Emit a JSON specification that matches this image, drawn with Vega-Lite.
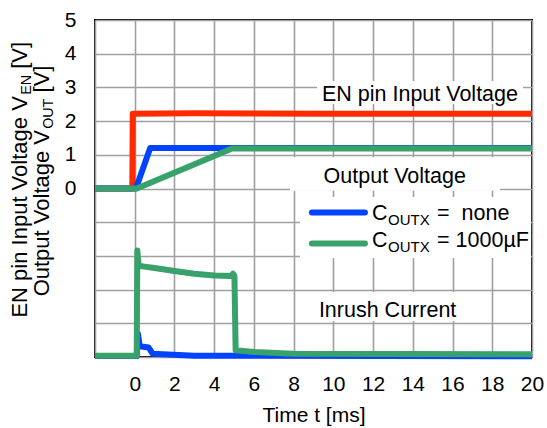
{
  "$schema": "https://vega.github.io/schema/vega-lite/v6.json",
  "width": 437,
  "height": 337,
  "autosize": {"type": "none"},
  "padding": {"left": 95, "top": 20, "right": 15, "bottom": 71},
  "background": "white",
  "config": {
    "font": "Liberation Sans",
    "view": {"stroke": "black", "strokeWidth": 2},
    "axis": {
      "grid": true,
      "gridColor": "#a0a0a4",
      "gridWidth": 1.6,
      "gridOpacity": 1,
      "ticks": false,
      "tickSize": 0,
      "tickCount": 40,
      "format": "d",
      "domain": false,
      "labelOverlap": false,
      "labelBound": false,
      "labelFlush": false,
      "labelFont": "Liberation Sans",
      "labelFontSize": 21,
      "labelColor": "black",
      "titleFont": "Liberation Sans",
      "titleFontSize": 21,
      "titleFontWeight": "normal",
      "titleColor": "black"
    }
  },
  "datasets": {
    "en": [
      {"t": -2, "v": 0}, {"t": -0.12, "v": 0}, {"t": -0.1, "v": 2.22}, {"t": 3, "v": 2.23}, {"t": 10, "v": 2.22}, {"t": 20, "v": 2.22}
    ],
    "blue": [
      {"k": "vout", "t": -2, "v": 0}, {"k": "vout", "t": 0.06, "v": 0}, {"k": "vout", "t": 0.78, "v": 1.2}, {"k": "vout", "t": 20, "v": 1.2},
      {"k": "inrush", "t": -2, "v": -4.97}, {"k": "inrush", "t": 0.1, "v": -4.97}, {"k": "inrush", "t": 0.16, "v": -4.3}, {"k": "inrush", "t": 0.25, "v": -4.68}, {"k": "inrush", "t": 0.7, "v": -4.72}, {"k": "inrush", "t": 0.9, "v": -4.9}, {"k": "inrush", "t": 3, "v": -4.96}, {"k": "inrush", "t": 20, "v": -4.98}
    ],
    "green": [
      {"k": "vout", "t": -2, "v": 0}, {"k": "vout", "t": 0.1, "v": 0}, {"k": "vout", "t": 4.9, "v": 1.19}, {"k": "vout", "t": 20, "v": 1.19},
      {"k": "inrush", "t": -2, "v": -4.96}, {"k": "inrush", "t": 0.1, "v": -4.96}, {"k": "inrush", "t": 0.13, "v": -1.84}, {"k": "inrush", "t": 0.2, "v": -2.3}, {"k": "inrush", "t": 0.4, "v": -2.31}, {"k": "inrush", "t": 1, "v": -2.36}, {"k": "inrush", "t": 2, "v": -2.45}, {"k": "inrush", "t": 3, "v": -2.53}, {"k": "inrush", "t": 4, "v": -2.58}, {"k": "inrush", "t": 4.85, "v": -2.6}, {"k": "inrush", "t": 4.95, "v": -2.53}, {"k": "inrush", "t": 5.02, "v": -2.6}, {"k": "inrush", "t": 5.08, "v": -4.8}, {"k": "inrush", "t": 6, "v": -4.85}, {"k": "inrush", "t": 8, "v": -4.9}, {"k": "inrush", "t": 20, "v": -4.92}
    ],
    "boxes": [
      {"t": 9.18, "t2": 19.55, "v": 3.19, "v2": 2.51},
      {"t": 7.82, "t2": 18.39, "v": 0.93, "v2": -0.07},
      {"t": 8.32, "t2": 19.95, "v": -0.25, "v2": -2.06},
      {"t": 8.32, "t2": 17.13, "v": -3.07, "v2": -3.93}
    ],
    "labels": [
      {"t": 14.36, "v": 2.61, "txt": "EN pin Input Voltage"},
      {"t": 13.09, "v": 0.17, "txt": "Output Voltage"},
      {"t": 12.73, "v": -3.8, "txt": "Inrush Current"}
    ],
    "legendLines": [
      {"t": 8.92, "t2": 11.59, "v": -0.71, "s": "none"},
      {"t": 8.92, "t2": 11.59, "v": -1.63, "s": "1000µF"}
    ],
    "legendMain": [
      {"t": 11.94, "v": -0.93, "txt": "C"},
      {"t": 15.22, "v": -0.93, "txt": "=\u00a0 none"},
      {"t": 11.94, "v": -1.74, "txt": "C"},
      {"t": 15.22, "v": -1.74, "txt": "= 1000µF"}
    ],
    "legendSub": [
      {"t": 12.75, "v": -0.93, "txt": "OUTX"},
      {"t": 12.75, "v": -1.74, "txt": "OUTX"}
    ],
    "ytitleMain": [
      {"t": -5.44, "v": -3.83, "txt": "EN pin Input Voltage V"},
      {"t": -5.44, "v": 3.55, "txt": "[V]"},
      {"t": -4.33, "v": -3.2, "txt": "Output Voltage V"},
      {"t": -4.33, "v": 2.85, "txt": "[V]"}
    ],
    "ytitleSub": [
      {"t": -5.44, "v": 2.78, "txt": "EN"},
      {"t": -4.33, "v": 1.77, "txt": "OUT"}
    ]
  },
  "layer": [
    {
      "data": {"name": "boxes"},
      "mark": {"type": "rect", "fill": "white", "stroke": null},
      "encoding": {
        "x": {"field": "t", "type": "quantitative", "title": "Time t [ms]",
          "scale": {"domain": [-2, 20], "nice": false, "zero": false},
          "axis": {"values": [-2, 0, 2, 4, 6, 8, 10, 12, 14, 16, 18, 20], "tickCount": 40, "format": "d", "labelExpr": "datum.value < 0 ? '' : datum.label", "labelPadding": 16, "titlePadding": 10}},
        "x2": {"field": "t2"},
        "y": {"field": "v", "type": "quantitative", "title": null,
          "scale": {"domain": [-5, 5], "nice": false, "zero": false},
          "axis": {"values": [-5, -4, -3, -2, -1, 0, 1, 2, 3, 4, 5], "tickCount": 40, "format": "d", "labelExpr": "datum.value < 0 ? '' : datum.label", "labelPadding": 19}},
        "y2": {"field": "v2"}
      }
    },
    {
      "data": {"name": "en"},
      "mark": {"type": "line", "color": "#ff2a00", "strokeWidth": 6, "strokeJoin": "round"},
      "encoding": {
        "x": {"field": "t", "type": "quantitative", "title": "Time t [ms]"},
        "y": {"field": "v", "type": "quantitative", "title": null}
      }
    },
    {
      "data": {"name": "blue"},
      "mark": {"type": "line", "color": "#0044ff", "strokeWidth": 6, "strokeJoin": "round"},
      "encoding": {
        "x": {"field": "t", "type": "quantitative", "title": "Time t [ms]"},
        "y": {"field": "v", "type": "quantitative", "title": null},
        "detail": {"field": "k"}
      }
    },
    {
      "data": {"name": "green"},
      "mark": {"type": "line", "color": "#38a26a", "strokeWidth": 6, "strokeJoin": "round"},
      "encoding": {
        "x": {"field": "t", "type": "quantitative", "title": "Time t [ms]"},
        "y": {"field": "v", "type": "quantitative", "title": null},
        "detail": {"field": "k"}
      }
    },
    {
      "data": {"name": "legendLines"},
      "mark": {"type": "rule", "strokeWidth": 6, "strokeCap": "round"},
      "encoding": {
        "x": {"field": "t", "type": "quantitative", "title": "Time t [ms]"},
        "x2": {"field": "t2"},
        "y": {"field": "v", "type": "quantitative", "title": null},
        "color": {"field": "s", "type": "nominal", "legend": null,
          "scale": {"domain": ["none", "1000µF"], "range": ["#0044ff", "#38a26a"]}}
      }
    },
    {
      "data": {"name": "labels"},
      "mark": {"type": "text", "font": "Liberation Sans", "fontSize": 21.5, "align": "center", "baseline": "alphabetic", "color": "black"},
      "encoding": {
        "x": {"field": "t", "type": "quantitative", "title": "Time t [ms]"},
        "y": {"field": "v", "type": "quantitative", "title": null},
        "text": {"field": "txt"}
      }
    },
    {
      "data": {"name": "legendMain"},
      "mark": {"type": "text", "font": "Liberation Sans", "fontSize": 21.5, "align": "left", "baseline": "alphabetic", "color": "black"},
      "encoding": {
        "x": {"field": "t", "type": "quantitative", "title": "Time t [ms]"},
        "y": {"field": "v", "type": "quantitative", "title": null},
        "text": {"field": "txt"}
      }
    },
    {
      "data": {"name": "legendSub"},
      "mark": {"type": "text", "font": "Liberation Sans", "fontSize": 15, "align": "left", "baseline": "alphabetic", "dy": 5, "color": "black"},
      "encoding": {
        "x": {"field": "t", "type": "quantitative", "title": "Time t [ms]"},
        "y": {"field": "v", "type": "quantitative", "title": null},
        "text": {"field": "txt"}
      }
    },
    {
      "data": {"name": "ytitleMain"},
      "mark": {"type": "text", "font": "Liberation Sans", "fontSize": 22, "align": "left", "baseline": "alphabetic", "angle": 270, "color": "black"},
      "encoding": {
        "x": {"field": "t", "type": "quantitative", "title": "Time t [ms]"},
        "y": {"field": "v", "type": "quantitative", "title": null},
        "text": {"field": "txt"}
      }
    },
    {
      "data": {"name": "ytitleSub"},
      "mark": {"type": "text", "font": "Liberation Sans", "fontSize": 14.3, "align": "left", "baseline": "alphabetic", "angle": 270, "dy": 4, "color": "black"},
      "encoding": {
        "x": {"field": "t", "type": "quantitative", "title": "Time t [ms]"},
        "y": {"field": "v", "type": "quantitative", "title": null},
        "text": {"field": "txt"}
      }
    }
  ]
}
